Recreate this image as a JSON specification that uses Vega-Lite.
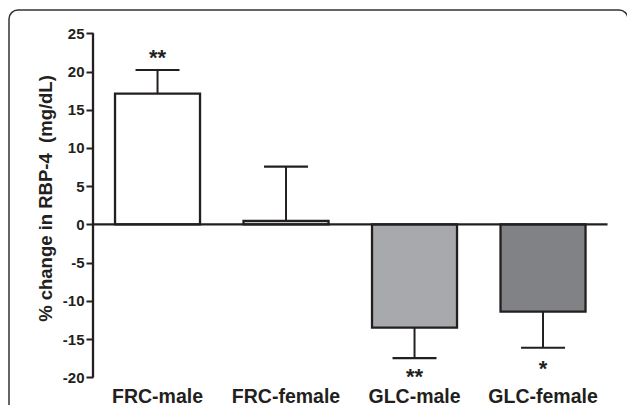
{
  "$schema": "https://vega.github.io/schema/vega-lite/v6.json",
  "autosize": "none",
  "width": 619,
  "height": 405,
  "padding": {"left": 9, "top": 10, "right": 0, "bottom": 0},
  "background": "white",
  "config": {
    "view": {"stroke": "#333333", "strokeWidth": 1.5, "cornerRadius": 9, "fill": null},
    "font": "Liberation Sans"
  },
  "datasets": {
    "main": [
      {"group": "FRC-male", "change": 17.1, "err": 20.2, "fillc": "white", "sig": "**", "sig_y": 20.8},
      {"group": "FRC-female", "change": 0.45, "err": 7.55, "fillc": "white", "sig": "", "sig_y": 0},
      {"group": "GLC-male", "change": -13.5, "err": -17.48, "fillc": "#a7a9ac", "sig": "**", "sig_y": -20.9},
      {"group": "GLC-female", "change": -11.42, "err": -16.13, "fillc": "#808285", "sig": "*", "sig_y": -19.85}
    ],
    "axisline": [
      {"from": "FRC-male", "to": "GLC-female", "lo": -20, "hi": 25, "zero": 0}
    ]
  },
  "encoding": {
    "x": {
      "field": "group", "type": "nominal",
      "scale": {"domain": ["FRC-male", "FRC-female", "GLC-male", "GLC-female"], "paddingInner": 0.3385, "paddingOuter": 0.5778, "align": 0.714},
      "axis": {"orient": "bottom", "title": null, "domain": false, "ticks": false, "tickSize": 0, "labelPadding": 0, "offset": -12.5, "labelBaseline": "alphabetic", "labelAngle": 0, "labelFont": "Liberation Sans", "labelFontWeight": "bold", "labelFontSize": 19.5, "labelColor": "#231f20"}
    }
  },
  "layer": [
    {
      "data": {"name": "main"},
      "mark": {"type": "bar", "stroke": "#231f20", "strokeWidth": 2.3},
      "encoding": {
        "y": {
          "field": "change", "type": "quantitative",
          "scale": {"domain": [-24.93, 28.05], "nice": false, "zero": false},
          "axis": {
            "values": [-20, -15, -10, -5, 0, 5, 10, 15, 20, 25],
            "labelExpr": "toString(datum.value)",
            "offset": -84, "domain": false, "grid": false,
            "tickSize": 7, "tickWidth": 2, "tickColor": "#231f20",
            "labelPadding": 2, "labelFont": "Liberation Sans", "labelFontWeight": "bold", "labelFontSize": 15, "labelColor": "#231f20",
            "title": "% change in RBP-4\u00a0 (mg/dL)",
            "titleFont": "Liberation Sans", "titleFontWeight": "bold", "titleFontSize": 18.5, "titleColor": "#231f20",
            "titleAngle": 270, "titleX": -48, "titleY": 188, "titleAlign": "center", "titleBaseline": "middle"
          }
        },
        "fill": {"field": "fillc", "type": "nominal", "scale": null}
      }
    },
    {
      "data": {"name": "main"},
      "mark": {"type": "rule", "stroke": "#231f20", "strokeWidth": 2},
      "encoding": {
        "y": {"field": "change", "type": "quantitative"},
        "y2": {"field": "err"}
      }
    },
    {
      "data": {"name": "main"},
      "mark": {"type": "tick", "color": "#231f20", "size": 44, "thickness": 2.2, "orient": "horizontal", "opacity": 1},
      "encoding": {
        "y": {"field": "err", "type": "quantitative"}
      }
    },
    {
      "data": {"name": "main"},
      "mark": {"type": "text", "font": "Liberation Sans", "fontWeight": "bold", "fontSize": 22, "baseline": "alphabetic", "color": "#231f20"},
      "encoding": {
        "y": {"field": "sig_y", "type": "quantitative"},
        "text": {"field": "sig"}
      }
    },
    {
      "data": {"name": "axisline"},
      "mark": {"type": "rule", "stroke": "#231f20", "strokeWidth": 2.3},
      "encoding": {
        "x": {"field": "from", "type": "nominal", "bandPosition": -0.259},
        "y": {"field": "lo", "type": "quantitative"},
        "y2": {"field": "hi"}
      }
    },
    {
      "data": {"name": "axisline"},
      "mark": {"type": "rule", "stroke": "#231f20", "strokeWidth": 2.3},
      "encoding": {
        "x": {"field": "from", "type": "nominal", "bandPosition": -0.259},
        "x2": {"field": "to", "bandPosition": 1.259},
        "y": {"field": "zero", "type": "quantitative"}
      }
    }
  ]
}
